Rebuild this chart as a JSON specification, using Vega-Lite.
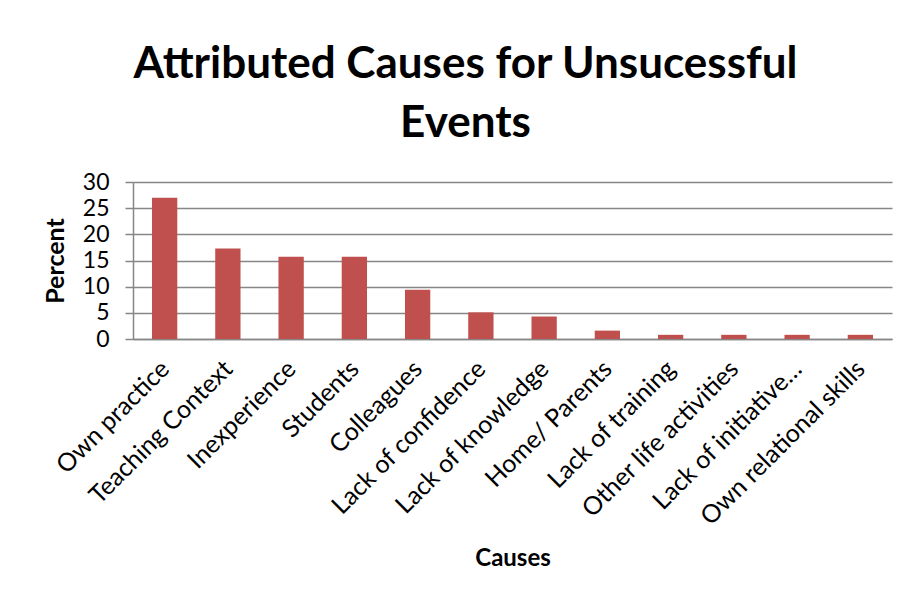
{
  "$schema": "https://vega.github.io/schema/vega-lite/v6.json",
  "autosize": "none",
  "width": 759,
  "height": 157,
  "padding": {"top": 182, "left": 133, "right": 17, "bottom": 263},
  "background": "white",
  "title": {
    "text": ["Attributed Causes for Unsucessful", "Events"],
    "font": "Lato",
    "fontSize": 44,
    "fontWeight": "bold",
    "color": "black",
    "anchor": "middle",
    "dx": -47,
    "lineHeight": 59,
    "offset": 25
  },
  "data": {
    "values": [
      {"cause": "Own practice", "percent": 27.0},
      {"cause": "Teaching Context", "percent": 17.3},
      {"cause": "Inexperience", "percent": 15.7},
      {"cause": "Students", "percent": 15.7},
      {"cause": "Colleagues", "percent": 9.4},
      {"cause": "Lack of confidence", "percent": 5.1},
      {"cause": "Lack of knowledge", "percent": 4.3},
      {"cause": "Home/ Parents", "percent": 1.6},
      {"cause": "Lack of training", "percent": 0.8},
      {"cause": "Other life activities", "percent": 0.8},
      {"cause": "Lack of initiative…", "percent": 0.8},
      {"cause": "Own relational skills", "percent": 0.8}
    ]
  },
  "mark": {"type": "bar", "color": "#C0504D"},
  "encoding": {
    "x": {
      "field": "cause",
      "type": "nominal",
      "sort": null,
      "scale": {"paddingInner": 0.6, "paddingOuter": 0.3},
      "axis": {
        "title": "Causes",
        "titleFont": "Lato",
        "titleFontSize": 24,
        "titleFontWeight": "bold",
        "titleColor": "black",
        "titlePadding": 17,
        "labelAngle": -45,
        "labelFont": "Lato",
        "labelFontSize": 25,
        "labelColor": "black",
        "labelPadding": 17,
        "labelOffset": -8,
        "labelLimit": 0,
        "ticks": false,
        "domainColor": "#868686",
        "domainWidth": 1.5
      }
    },
    "y": {
      "field": "percent",
      "type": "quantitative",
      "scale": {"domain": [0, 30], "nice": false},
      "axis": {
        "title": "Percent",
        "titleFont": "Lato",
        "titleFontSize": 25,
        "titleFontWeight": "bold",
        "titleColor": "black",
        "titlePadding": 14,
        "values": [0, 5, 10, 15, 20, 25, 30],
        "labelFont": "Lato",
        "labelFontSize": 23,
        "labelColor": "black",
        "labelPadding": 16,
        "tickSize": 8,
        "tickColor": "#868686",
        "tickWidth": 1.5,
        "domainColor": "#868686",
        "domainWidth": 1.5,
        "gridColor": "#868686",
        "gridWidth": 1.5,
        "gridOpacity": 1
      }
    }
  },
  "config": {"view": {"stroke": null}}
}
